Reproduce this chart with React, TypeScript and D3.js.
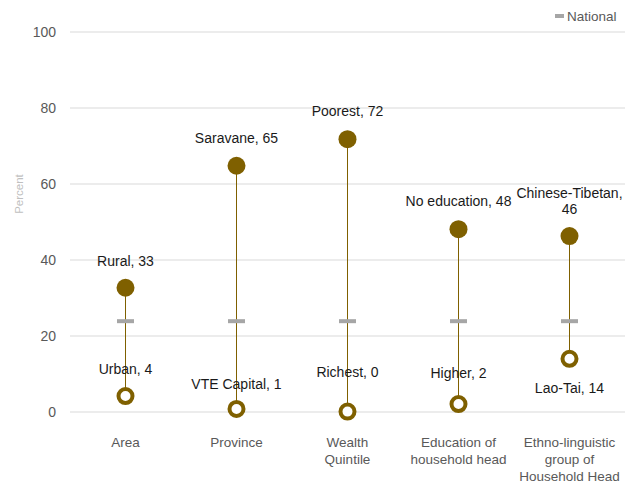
import React from "react";
import * as d3 from "d3";

const categories = ["Area", "Province", "Wealth\nQuintile", "Education of\nhousehold head", "Ethno-linguistic\ngroup of\nHousehold Head"];
const highNames = ["Rural", "Saravane", "Poorest", "No education", "Chinese-Tibetan,"];
const highValues = [32.7, 64.8, 71.8, 48.1, 46.3];
const highLabelValues = ["33", "65", "72", "48", "46"];
const lowNames = ["Urban", "VTE Capital", "Richest", "Higher", "Lao-Tai"];
const lowValues = [4.2, 0.8, 0.1, 2.1, 14.0];
const lowLabelValues = ["4", "1", "0", "2", "14"];
const nationalValue = 23.9;
const yTicks = [0, 20, 40, 60, 80, 100];

// label placement styles (pixel offsets from dot centre)
const highLabelDy = [-22, -23, -23, -23, -38];
const lowLabelDy = [-22, -20, -35, -26, 34];

const W = 637, H = 486;
const M = { left: 70, right: 12, top: 32, bottom: 74 };
const GOLD = "#7F6000";
const FONT = "'Liberation Sans', Arial, sans-serif";

export default function App() {
  const x = d3.scaleBand().domain(categories).range([M.left, W - M.right]);
  const y = d3.scaleLinear().domain([0, 100]).range([H - M.bottom, M.top]);
  const cx = (c: string) => (x(c) as number) + x.bandwidth() / 2;
  return (
    <svg width={W} height={H} style={{ position: "absolute", left: 0, top: 0, background: "#fff" }} fontFamily={FONT}>
      {yTicks.map((t) => (
        <g key={t}>
          <line x1={M.left} x2={W - M.right} y1={y(t)} y2={y(t)} stroke="#D9D9D9" strokeWidth={1} />
          <text x={56} y={y(t)} dy="0.35em" textAnchor="end" fontSize={14} fill="#595959">{t}</text>
        </g>
      ))}
      <text transform={`translate(23,194) rotate(-90)`} textAnchor="middle" fontSize={11.5} fill="#BFBFBF">Percent</text>
      {categories.map((c, i) => {
        const px = cx(c);
        return (
          <g key={c}>
            <line x1={px} x2={px} y1={y(highValues[i])} y2={y(lowValues[i])} stroke={GOLD} strokeWidth={1} />
            <line x1={px - 8.5} x2={px + 8.5} y1={y(nationalValue)} y2={y(nationalValue)} stroke="#A6A6A6" strokeWidth={4} />
            <circle cx={px} cy={y(highValues[i])} r={9} fill={GOLD} />
            <circle cx={px} cy={y(lowValues[i])} r={7} fill="#fff" stroke={GOLD} strokeWidth={4} />
            {i === 4 ? (
              <text x={px} y={y(highValues[i]) + highLabelDy[i]} textAnchor="middle" fontSize={14} fill="#1a1a1a">
                <tspan x={px} dy="0">{highNames[i]}</tspan>
                <tspan x={px} dy="16">{highLabelValues[i]}</tspan>
              </text>
            ) : (
              <text x={px} y={y(highValues[i]) + highLabelDy[i]} textAnchor="middle" fontSize={14} fill="#1a1a1a">{`${highNames[i]}, ${highLabelValues[i]}`}</text>
            )}
            <text x={px} y={y(lowValues[i]) + lowLabelDy[i]} textAnchor="middle" fontSize={14} fill="#1a1a1a">{`${lowNames[i]}, ${lowLabelValues[i]}`}</text>
            <text x={px} y={447} textAnchor="middle" fontSize={13.5} fill="#595959">
              {c.split("\n").map((s, k) => (
                <tspan key={k} x={px} dy={k === 0 ? 0 : 17}>{s}</tspan>
              ))}
            </text>
          </g>
        );
      })}
      <line x1={555} x2={564} y1={16} y2={16} stroke="#A6A6A6" strokeWidth={4} />
      <text x={567} y={16} dy="0.35em" fontSize={13.5} fill="#595959">National</text>
    </svg>
  );
}
